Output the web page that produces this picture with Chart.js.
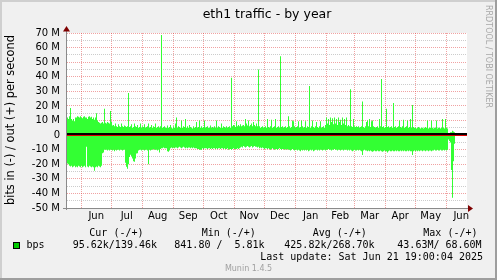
<!DOCTYPE html>
<html>
<head>
<meta charset="utf-8">
<script src="https://cdn.jsdelivr.net/npm/chart.js@4.4.1/dist/chart.umd.min.js"></script>
<style>
  html, body { margin: 0; padding: 0; background: #f0f0f0; }
  canvas { display: block; }
</style>
</head>
<body>
<canvas id="graph" width="497" height="280"></canvas>
<script>
// eth1 traffic, yearly munin graph. One value per day, in Mbit/s.
// Window is 400 days ending at the last update.
const lastUpdate = Date.UTC(2025, 5, 21, 19, 0);
const windowDays = 400;

const monthNames = ['Jun', 'Jul', 'Aug', 'Sep', 'Oct', 'Nov', 'Dec', 'Jan', 'Feb', 'Mar', 'Apr', 'May', 'Jun'];
const monthStarts = ['2024-06-01', '2024-07-01', '2024-08-01', '2024-09-01', '2024-10-01', '2024-11-01',
  '2024-12-01', '2025-01-01', '2025-02-01', '2025-03-01', '2025-04-01', '2025-05-01', '2025-06-01', '2025-07-01'];

const yTicks = { min: -50, max: 70, step: 5, major: 10 };

// out (+) per day
const outM = [
  10, 12, 11, 13, 18.5, 11, 10, 11, 9.5, 12,
  12, 13, 12.5, 12, 13, 12, 11.5, 12.5, 13, 12,
  12, 11, 12.5, 13, 12, 12.5, 11, 12, 10.5, 12,
  15, 10, 9, 8.5, 8, 8.5, 9, 8, 18, 8.5,
  8, 9, 8.5, 8, 16.5, 9, 6.5, 7, 6, 8,
  6, 5.5, 7.5, 6, 5.5, 8, 6, 5.5, 6.5, 6,
  5.5, 6, 28.8, 5.5, 6, 7.5, 5, 5.5, 8, 6,
  5.5, 7, 5, 5.5, 8, 5, 6, 5.5, 7.5, 5,
  5.5, 6, 8, 5, 5.5, 7, 5, 6, 5.5, 8,
  5, 5.5, 6, 5, 6, 68.6, 5, 5.5, 6, 5,
  5, 6.5, 5, 5.5, 7, 5, 4.5, 6, 5, 8,
  12, 5, 6, 5.5, 5, 10, 5, 6, 5.5, 11,
  5, 6, 5, 7, 5.5, 5, 4.5, 6, 5, 5.5,
  9, 5, 5.5, 10, 5, 6, 5, 5.5, 10, 5,
  5.5, 6, 5, 5, 6.5, 5, 5.5, 5, 6, 5,
  10, 5, 6, 5.5, 5, 8, 5, 6, 5.5, 5,
  6, 5, 5.5, 6, 5, 39.3, 6, 7, 6.5, 5.5,
  9.5, 6, 7, 6, 7.5, 6, 6.5, 7, 6, 11,
  8, 6.5, 10, 6, 7, 8, 6, 9, 7, 6,
  8, 6, 45, 6, 5, 5.5, 6, 5, 5.5, 6,
  5, 11, 5.5, 5, 6, 10.5, 5, 5.5, 6, 11,
  5, 5.5, 6, 5, 54, 5.5, 6, 5, 5.5, 6,
  5, 5.5, 13, 6, 5, 5.5, 10, 9.5, 6, 5,
  5.5, 6, 9.5, 5, 5.5, 10, 6, 5, 5.5, 9.5,
  5, 6, 5.5, 33.6, 5, 6, 10, 5.5, 5, 6,
  9, 5.5, 5, 6, 9.5, 5, 5.5, 6, 5, 7,
  12, 8, 11, 7, 12, 9, 11.5, 7.5, 12, 8,
  11, 7, 12, 9, 10.5, 7, 12, 8, 11, 7,
  12, 6, 7, 6, 31.5, 6, 5.5, 11, 6, 5.5,
  6, 5.5, 6, 5, 5.5, 6, 23, 5.5, 5, 6,
  9, 10, 6, 11, 5.5, 9.5, 10, 6, 5.5, 5,
  5.5, 6, 5, 11, 6, 38.4, 5.5, 6, 5, 5.5,
  18, 5.5, 6, 5, 5.5, 6, 5, 22, 5.5, 6,
  5, 5.5, 6, 10, 5.5, 5, 6, 10.5, 5, 5.5,
  6, 10, 5, 5.5, 11, 5, 20.6, 5.5, 5, 5,
  4.5, 5, 5.5, 5, 4.5, 5, 5, 4.5, 5, 5.5,
  5, 10, 4.5, 5, 5, 10, 5, 4.5, 5, 5,
  10, 4.5, 5, 5, 4.5, 5, 11, 5, 4.5, 11,
  5, 4.5, 0.5, 0.5, 2, 2, 3, 2.5, 2, 0
];

// in (-) per day, as magnitudes
const inM = [
  19, 19.5, 20, 21, 21.5, 21, 22, 21.5, 21, 22,
  21.5, 22, 21, 21.5, 22, 21, 22, 21.5, 21, 22,
  8, 21.5, 22, 21, 21.5, 22, 21.5, 22, 24.5, 22,
  21.5, 22, 21, 21.5, 22, 21, 12.5, 12, 10, 10,
  10, 10.5, 10, 10.5, 10, 10, 10.5, 10, 11, 10,
  10.5, 10, 10, 10.5, 10, 10, 10.5, 10, 10, 19,
  21.7, 23, 20, 15, 13.5, 14.5, 16, 18, 18.3, 16,
  12.6, 12.5, 10.5, 10, 10, 10.5, 10, 10, 10.5, 10,
  10, 10.5, 20, 10, 10.5, 10, 10, 9.5, 10, 10,
  10, 10.5, 10, 12, 9.5, 9, 9, 8.5, 9, 9,
  9, 11, 11.5, 10.5, 9, 8.5, 9, 8.5, 9, 8.5,
  8.5, 9, 8.5, 8, 8.5, 9, 8.5, 8, 8.5, 9,
  8.5, 9, 8.5, 8.5, 9, 8.5, 9, 8.5, 9, 9,
  9, 9.5, 9.5, 10, 10, 10, 9, 9.5, 9, 9,
  9, 9.5, 9, 9, 9.5, 9, 9.5, 9, 9, 9.5,
  9, 9.5, 9, 9, 9.5, 9, 9, 9.5, 9, 9.5,
  9.5, 9, 10, 9.5, 9.5, 10, 9.5, 9, 9.5, 9.5,
  9.5, 9, 9.5, 9, 8.5, 8, 8.5, 7.5, 8, 8.5,
  8, 7.5, 8, 8.5, 8, 7.5, 8.5, 8, 7.5, 8,
  8, 8.5, 8, 9, 8.5, 9, 8.5, 9, 9.5, 9,
  9, 9.5, 9, 9.5, 10, 9.5, 9, 9.5, 10, 9.5,
  9.5, 10, 9.5, 9, 9.5, 10, 9.5, 9.5, 10, 9.5,
  10, 9.5, 10, 10, 10.5, 10, 9.5, 10, 10.5, 10,
  10, 10.5, 10, 10.5, 11, 10, 10.5, 10, 10.5, 10,
  10.5, 10, 11, 10.5, 10, 10.5, 10, 11, 10.5, 10,
  10, 10.5, 10, 10.5, 10, 10, 10.5, 10, 10, 10.5,
  10, 10, 9.5, 10, 10, 10.5, 10, 10, 9.5, 10,
  10, 10.5, 10, 10, 10.5, 10, 10, 10.5, 10, 10,
  10, 10.5, 10, 10.5, 10, 10.5, 11, 10.5, 10, 10.5,
  10.5, 10, 10.5, 10, 10.5, 11, 13.7, 10.5, 10, 10.5,
  10.5, 11, 10.5, 11, 10.5, 11, 11.5, 11, 10.5, 11,
  11, 10.5, 11, 11, 10.5, 11, 11.5, 11, 10.5, 11,
  11, 12, 11, 10.5, 11, 11, 10.5, 11, 11, 10.5,
  11, 10.5, 11, 11, 10.5, 11, 10.5, 11, 10.5, 11,
  11, 10.5, 11, 10.5, 11, 11, 13.7, 11, 10.5, 11,
  10.5, 11, 10.5, 11, 10.5, 10.5, 11, 10.5, 10.5, 11,
  10.5, 10.5, 11, 10.5, 10.5, 11, 10.5, 10.5, 10, 10.5,
  10.5, 10, 10.5, 10.5, 10, 10.5, 10.5, 10, 10.5, 10,
  10.5, 10, 3, 4, 5, 24, 43, 18, 6, 0
];

const legendHeaders = ['Cur (-/+)', 'Min (-/+)', 'Avg (-/+)', 'Max (-/+)'];
const legendValues = [' 95.62k/139.46k', '841.80 /  5.81k', '425.82k/268.70k', ' 43.63M/ 68.60M'];
const seriesLabel = 'bps';
const titleText = 'eth1 traffic - by year';
const yTitleText = 'bits in (-) / out (+) per second';
const updateText = 'Last update: Sat Jun 21 19:00:04 2025';
const versionText = 'Munin 1.4.5';
const watermarkText = 'RRDTOOL / TOBI OETIKER';

const W = 497, H = 280;
const GREEN = '#33ff33';
const MAJOR = 'rgba(222, 48, 48, 0.45)';
const MINOR = 'rgba(143, 143, 143, 0.45)';
const SANS = '"DejaVu Sans", sans-serif';
const MONO = '"DejaVu Sans Mono", monospace';

const windowStart = lastUpdate - windowDays * 864e5;
const toDay = (iso) => (Date.parse(iso + 'T00:00:00Z') - windowStart) / 864e5;
const gridDays = monthStarts.slice(0, 13).map(toDay);
const labelDays = monthNames.map((_, i) => (toDay(monthStarts[i]) + toDay(monthStarts[i + 1])) / 2);

const steps = (values, sign) => {
  const pts = values.map((v, i) => ({ x: i, y: sign * v }));
  pts.push({ x: values.length, y: sign * values[values.length - 1] });
  return pts;
};

const frame = {
  id: 'frame',
  beforeDraw(chart) {
    const { ctx, chartArea: a } = chart;
    ctx.save();
    ctx.fillStyle = '#f0f0f0';
    ctx.fillRect(0, 0, W, H);
    ctx.fillStyle = '#cfcfcf';
    ctx.fillRect(0, 0, W, 2);
    ctx.fillRect(0, 0, 2, H);
    ctx.fillStyle = '#9e9e9e';
    ctx.fillRect(0, H - 2, W, 2);
    ctx.fillRect(W - 2, 0, 2, H);
    ctx.fillStyle = '#ffffff';
    ctx.fillRect(a.left, a.top, a.right - a.left, a.bottom - a.top);
    ctx.restore();
  },
  afterDraw(chart) {
    const { ctx, chartArea: a } = chart;
    const y = chart.scales.y;
    ctx.save();

    // zero rules
    const y0 = Math.round(y.getPixelForValue(0));
    ctx.fillStyle = '#000000';
    ctx.fillRect(a.left, y0 - 2, a.right - a.left, 2);
    ctx.fillStyle = '#e00000';
    ctx.fillRect(a.left, y0, a.right - a.left, 1);

    // axes with arrows
    const bottom = Math.round(a.bottom);
    ctx.fillStyle = '#8a8a8a';
    ctx.fillRect(a.left - 1, a.top - 4, 1, bottom - a.top + 6);
    ctx.fillRect(a.left - 4, bottom, a.right - a.left + 5, 1);
    ctx.fillStyle = '#7f0000';
    ctx.beginPath();
    ctx.moveTo(a.left - 0.5, a.top - 7);
    ctx.lineTo(a.left - 4, a.top - 1.5);
    ctx.lineTo(a.left + 3, a.top - 1.5);
    ctx.closePath();
    ctx.fill();
    ctx.beginPath();
    ctx.moveTo(a.right + 6, bottom + 0.5);
    ctx.lineTo(a.right + 1, bottom - 3);
    ctx.lineTo(a.right + 1, bottom + 4);
    ctx.closePath();
    ctx.fill();

    // title
    ctx.fillStyle = '#000000';
    ctx.font = '12.5px ' + SANS;
    ctx.textAlign = 'center';
    ctx.textBaseline = 'alphabetic';
    ctx.fillText(titleText, (a.left + a.right) / 2, 17.5);

    // vertical unit title
    ctx.save();
    ctx.translate(11.3, 120);
    ctx.rotate(-Math.PI / 2);
    ctx.font = '11.4px ' + SANS;
    ctx.textBaseline = 'middle';
    ctx.fillText(yTitleText, 0, 0);
    ctx.restore();

    // watermark on the right edge
    ctx.save();
    ctx.translate(488.3, 56.5);
    ctx.rotate(Math.PI / 2);
    ctx.font = '8px ' + SANS;
    ctx.fillStyle = '#a8a8a8';
    ctx.textBaseline = 'middle';
    ctx.fillText(watermarkText, 0, 0);
    ctx.restore();

    // legend
    ctx.font = '10px ' + MONO;
    ctx.textAlign = 'left';
    ctx.textBaseline = 'middle';
    ctx.fillStyle = '#000000';
    const headerX = [89.3, 201.7, 312.7, 423.3];
    const valueX = [66.7, 174.3, 284.3, 391.3];
    legendHeaders.forEach((t, i) => ctx.fillText(t, headerX[i], 233.5));
    legendValues.forEach((t, i) => ctx.fillText(t, valueX[i], 245.5));
    ctx.fillText(seriesLabel, 26.5, 245.5);
    ctx.fillStyle = '#00cc00';
    ctx.fillRect(13, 242, 7, 7);
    ctx.strokeStyle = '#000000';
    ctx.lineWidth = 1;
    ctx.strokeRect(13.5, 242.5, 6, 6);
    ctx.fillStyle = '#000000';
    ctx.textAlign = 'right';
    ctx.fillText(updateText, 483, 257);
    ctx.textAlign = 'center';
    ctx.font = '8px ' + SANS;
    ctx.fillStyle = '#a0a0a0';
    ctx.fillText(versionText, W / 2, 268.5);
    ctx.restore();
  }
};

new Chart(document.getElementById('graph'), {
  type: 'line',
  data: {
    datasets: [
      {
        label: 'out',
        data: steps(outM, 1),
        stepped: 'after',
        fill: 'origin',
        backgroundColor: GREEN,
        borderColor: 'rgba(0,0,0,0)',
        borderWidth: 0,
        pointRadius: 0,
        xAxisID: 'x',
      },
      {
        label: 'in',
        data: steps(inM, -1),
        stepped: 'after',
        fill: 'origin',
        backgroundColor: GREEN,
        borderColor: 'rgba(0,0,0,0)',
        borderWidth: 0,
        pointRadius: 0,
        xAxisID: 'x',
      },
    ],
  },
  options: {
    responsive: false,
    animation: false,
    events: [],
    layout: { padding: { left: 0, top: 33, right: 30, bottom: 52 } },
    plugins: { legend: { display: false }, tooltip: { enabled: false } },
    scales: {
      x: {
        type: 'linear',
        position: 'bottom',
        min: 0,
        max: windowDays,
        z: 1,
        afterBuildTicks: (scale) => { scale.ticks = gridDays.map((v) => ({ value: v })); },
        afterFit: (scale) => { scale.height = 0; },
        ticks: { display: false },
        grid: { color: MAJOR, lineWidth: 1, drawTicks: false },
        border: { display: false, dash: [1, 1] },
      },
      months: {
        type: 'linear',
        position: 'bottom',
        min: 0,
        max: windowDays,
        afterBuildTicks: (scale) => { scale.ticks = labelDays.map((v) => ({ value: v })); },
        afterFit: (scale) => { scale.height = 20; },
        ticks: {
          autoSkip: false,
          maxRotation: 0,
          padding: 2,
          color: '#000000',
          font: { family: SANS, size: 10 },
          callback: (v, i) => monthNames[i],
        },
        grid: { display: false, drawTicks: false },
        border: { display: false },
      },
      y: {
        type: 'linear',
        min: yTicks.min,
        max: yTicks.max,
        z: 1,
        afterFit: (scale) => { scale.width = 67; },
        ticks: {
          stepSize: yTicks.step,
          autoSkip: false,
          padding: 7,
          color: '#000000',
          font: { family: SANS, size: 10 },
          callback: (v) => (v % yTicks.major !== 0 ? '' : v === 0 ? '0' : v + ' M'),
        },
        grid: {
          color: (c) => (c.tick.value % yTicks.major === 0 ? MAJOR : MINOR),
          lineWidth: 1,
          drawTicks: false,
        },
        border: { display: false, dash: [1, 1] },
      },
    },
  },
  plugins: [frame],
});
</script>
</body>
</html>
